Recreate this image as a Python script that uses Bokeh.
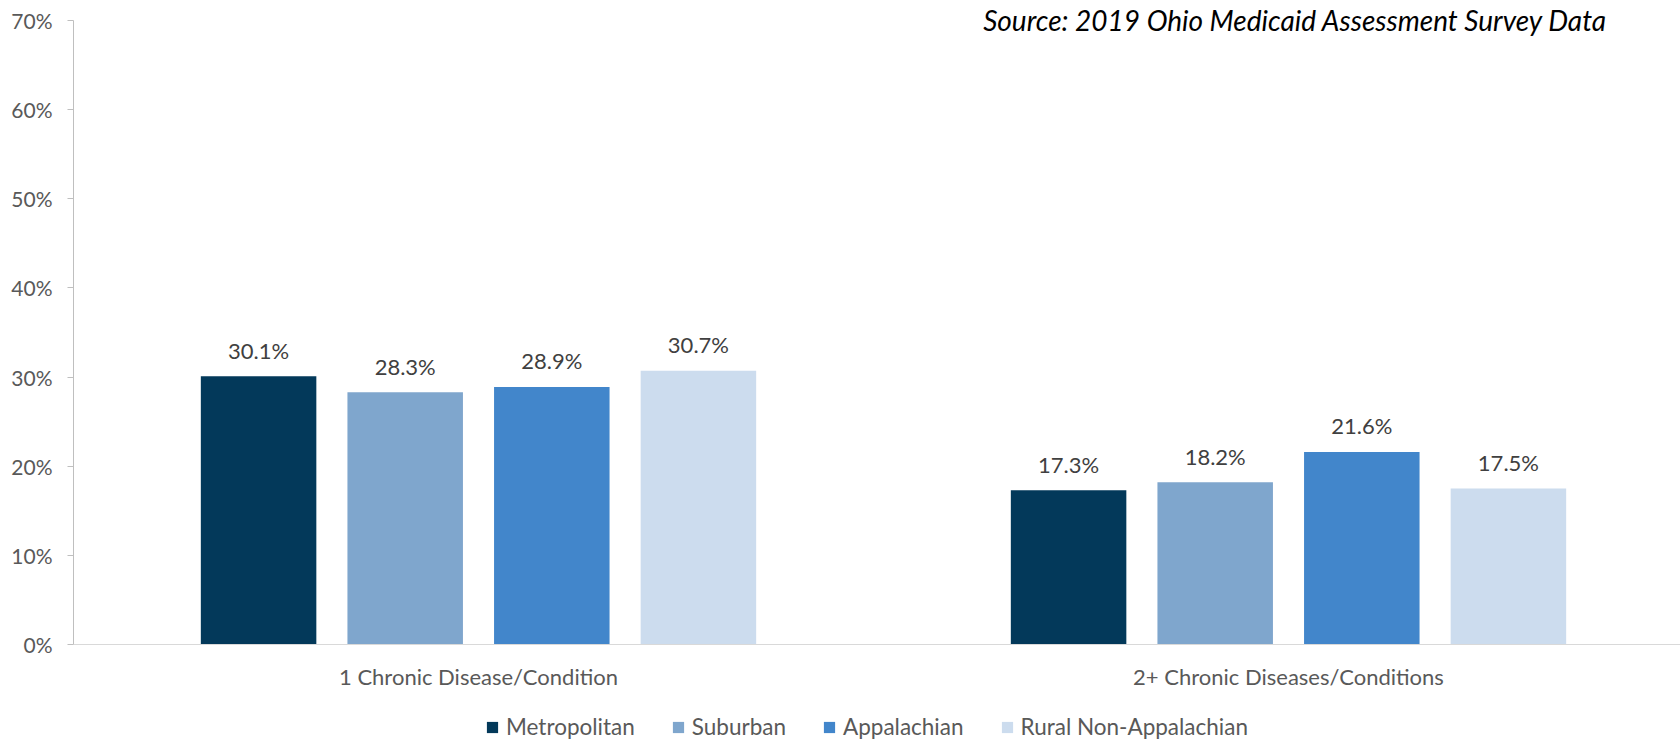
from bokeh.plotting import figure
from bokeh.models import (Range1d, FixedTicker, ColumnDataSource, LabelSet, Legend,
                          LegendItem, Label, PrintfTickFormatter)
from bokeh.core.properties import value
from bokeh.embed import file_html
from bokeh.resources import INLINE

categories = ["1 Chronic Disease/Condition", "2+ Chronic Diseases/Conditions"]
series_names = ["Metropolitan", "Suburban", "Appalachian", "Rural Non-Appalachian"]
metropolitan = [30.1, 17.3]
suburban = [28.3, 18.2]
appalachian = [28.9, 21.6]
rural_non_appalachian = [30.7, 17.5]
y_ticks = [0, 10, 20, 30, 40, 50, 60, 70]
source_note = "Source: 2019 Ohio Medicaid Assessment Survey Data"

series_values = [metropolitan, suburban, appalachian, rural_non_appalachian]
colors = ["#03395A", "#7FA6CD", "#4286CB", "#CCDCEE"]
offsets = [-0.2715, -0.0905, 0.0905, 0.2715]
bar_width = 0.1426
FONT = "Lato"

W, H = 1680, 740
FL, FW = 73, 1607
Y0_PX = 644       # canvas y of the 0% line
Y70_PX = 20       # canvas y of the 70% line
cat_px = 810.0
y_max = max(y_ticks)
px_per_unit = (Y0_PX - Y70_PX) / y_max
y_start = -(H - Y0_PX) / px_per_unit
y_end = Y0_PX / px_per_unit

p = figure(width=W, height=H, output_backend="svg", toolbar_location=None,
           x_range=Range1d(0, FW / cat_px), y_range=Range1d(y_start, y_end),
           min_border_left=FL, min_border_right=W - FL - FW, min_border_top=0,
           min_border_bottom=0)
p.outline_line_color = None
p.xgrid.grid_line_color = None
p.ygrid.grid_line_color = None
p.background_fill_color = "white"
p.border_fill_color = "white"

renderers = []
for i, (name, vals) in enumerate(zip(series_names, series_values)):
    xs = [j + 0.5 + offsets[i] for j in range(len(categories))]
    src = ColumnDataSource(dict(x=xs, top=vals, label=[f"{v:.1f}%" for v in vals]))
    r = p.vbar(x="x", top="top", bottom=0, width=bar_width, source=src,
               fill_color=colors[i], line_color=None)
    renderers.append(r)
    labels = LabelSet(x="x", y="top", text="label", source=src, y_offset=26,
                      text_align="center", text_baseline="middle",
                      text_font=value(FONT), text_font_size=value("22px"),
                      text_color=value("#404040"))
    p.add_layout(labels)

# y axis
ya = p.yaxis[0]
ya.ticker = FixedTicker(ticks=y_ticks)
ya.bounds = (0, y_max)
ya.formatter = PrintfTickFormatter(format="%d%%")
ya.axis_line_color = "#BFBFBF"
ya.major_tick_line_color = "#BFBFBF"
ya.major_tick_out = 6
ya.major_tick_in = 0
ya.minor_tick_line_color = None
ya.major_label_standoff = 15
ya.major_label_text_font = FONT
ya.major_label_text_font_size = "21px"
ya.major_label_text_color = "#595959"

# x axis, drawn at the 0% line
xa = p.xaxis[0]
xa.fixed_location = 0
xa.ticker = FixedTicker(ticks=[j + 0.5 for j in range(len(categories))])
xa.major_label_overrides = {j + 0.5: c for j, c in enumerate(categories)}
xa.axis_line_color = "#D9D9D9"
xa.major_tick_line_color = None
xa.minor_tick_line_color = None
xa.major_tick_out = 0
xa.major_tick_in = 0
xa.major_label_standoff = 18
xa.major_label_text_font = FONT
xa.major_label_text_font_size = "22px"
xa.major_label_text_color = "#595959"

legend = Legend(items=[LegendItem(label=n, renderers=[r]) for n, r in zip(series_names, renderers)],
                orientation="horizontal", location=(412, 0),
                glyph_width=14, glyph_height=14, label_standoff=7, spacing=36,
                padding=0, margin=0, border_line_color=None, background_fill_alpha=0,
                label_text_font=FONT, label_text_font_size="22.5px",
                label_text_color="#595959")
p.add_layout(legend, "center")

note = Label(x=1607 - FL, y=H - 19, x_units="screen", y_units="screen", text=source_note,
             text_align="right", text_baseline="middle", text_font=FONT,
             text_font_style="italic", text_font_size="28px", text_color="#000000")
p.add_layout(note)

open("out.html", "w").write(file_html(p, INLINE))
